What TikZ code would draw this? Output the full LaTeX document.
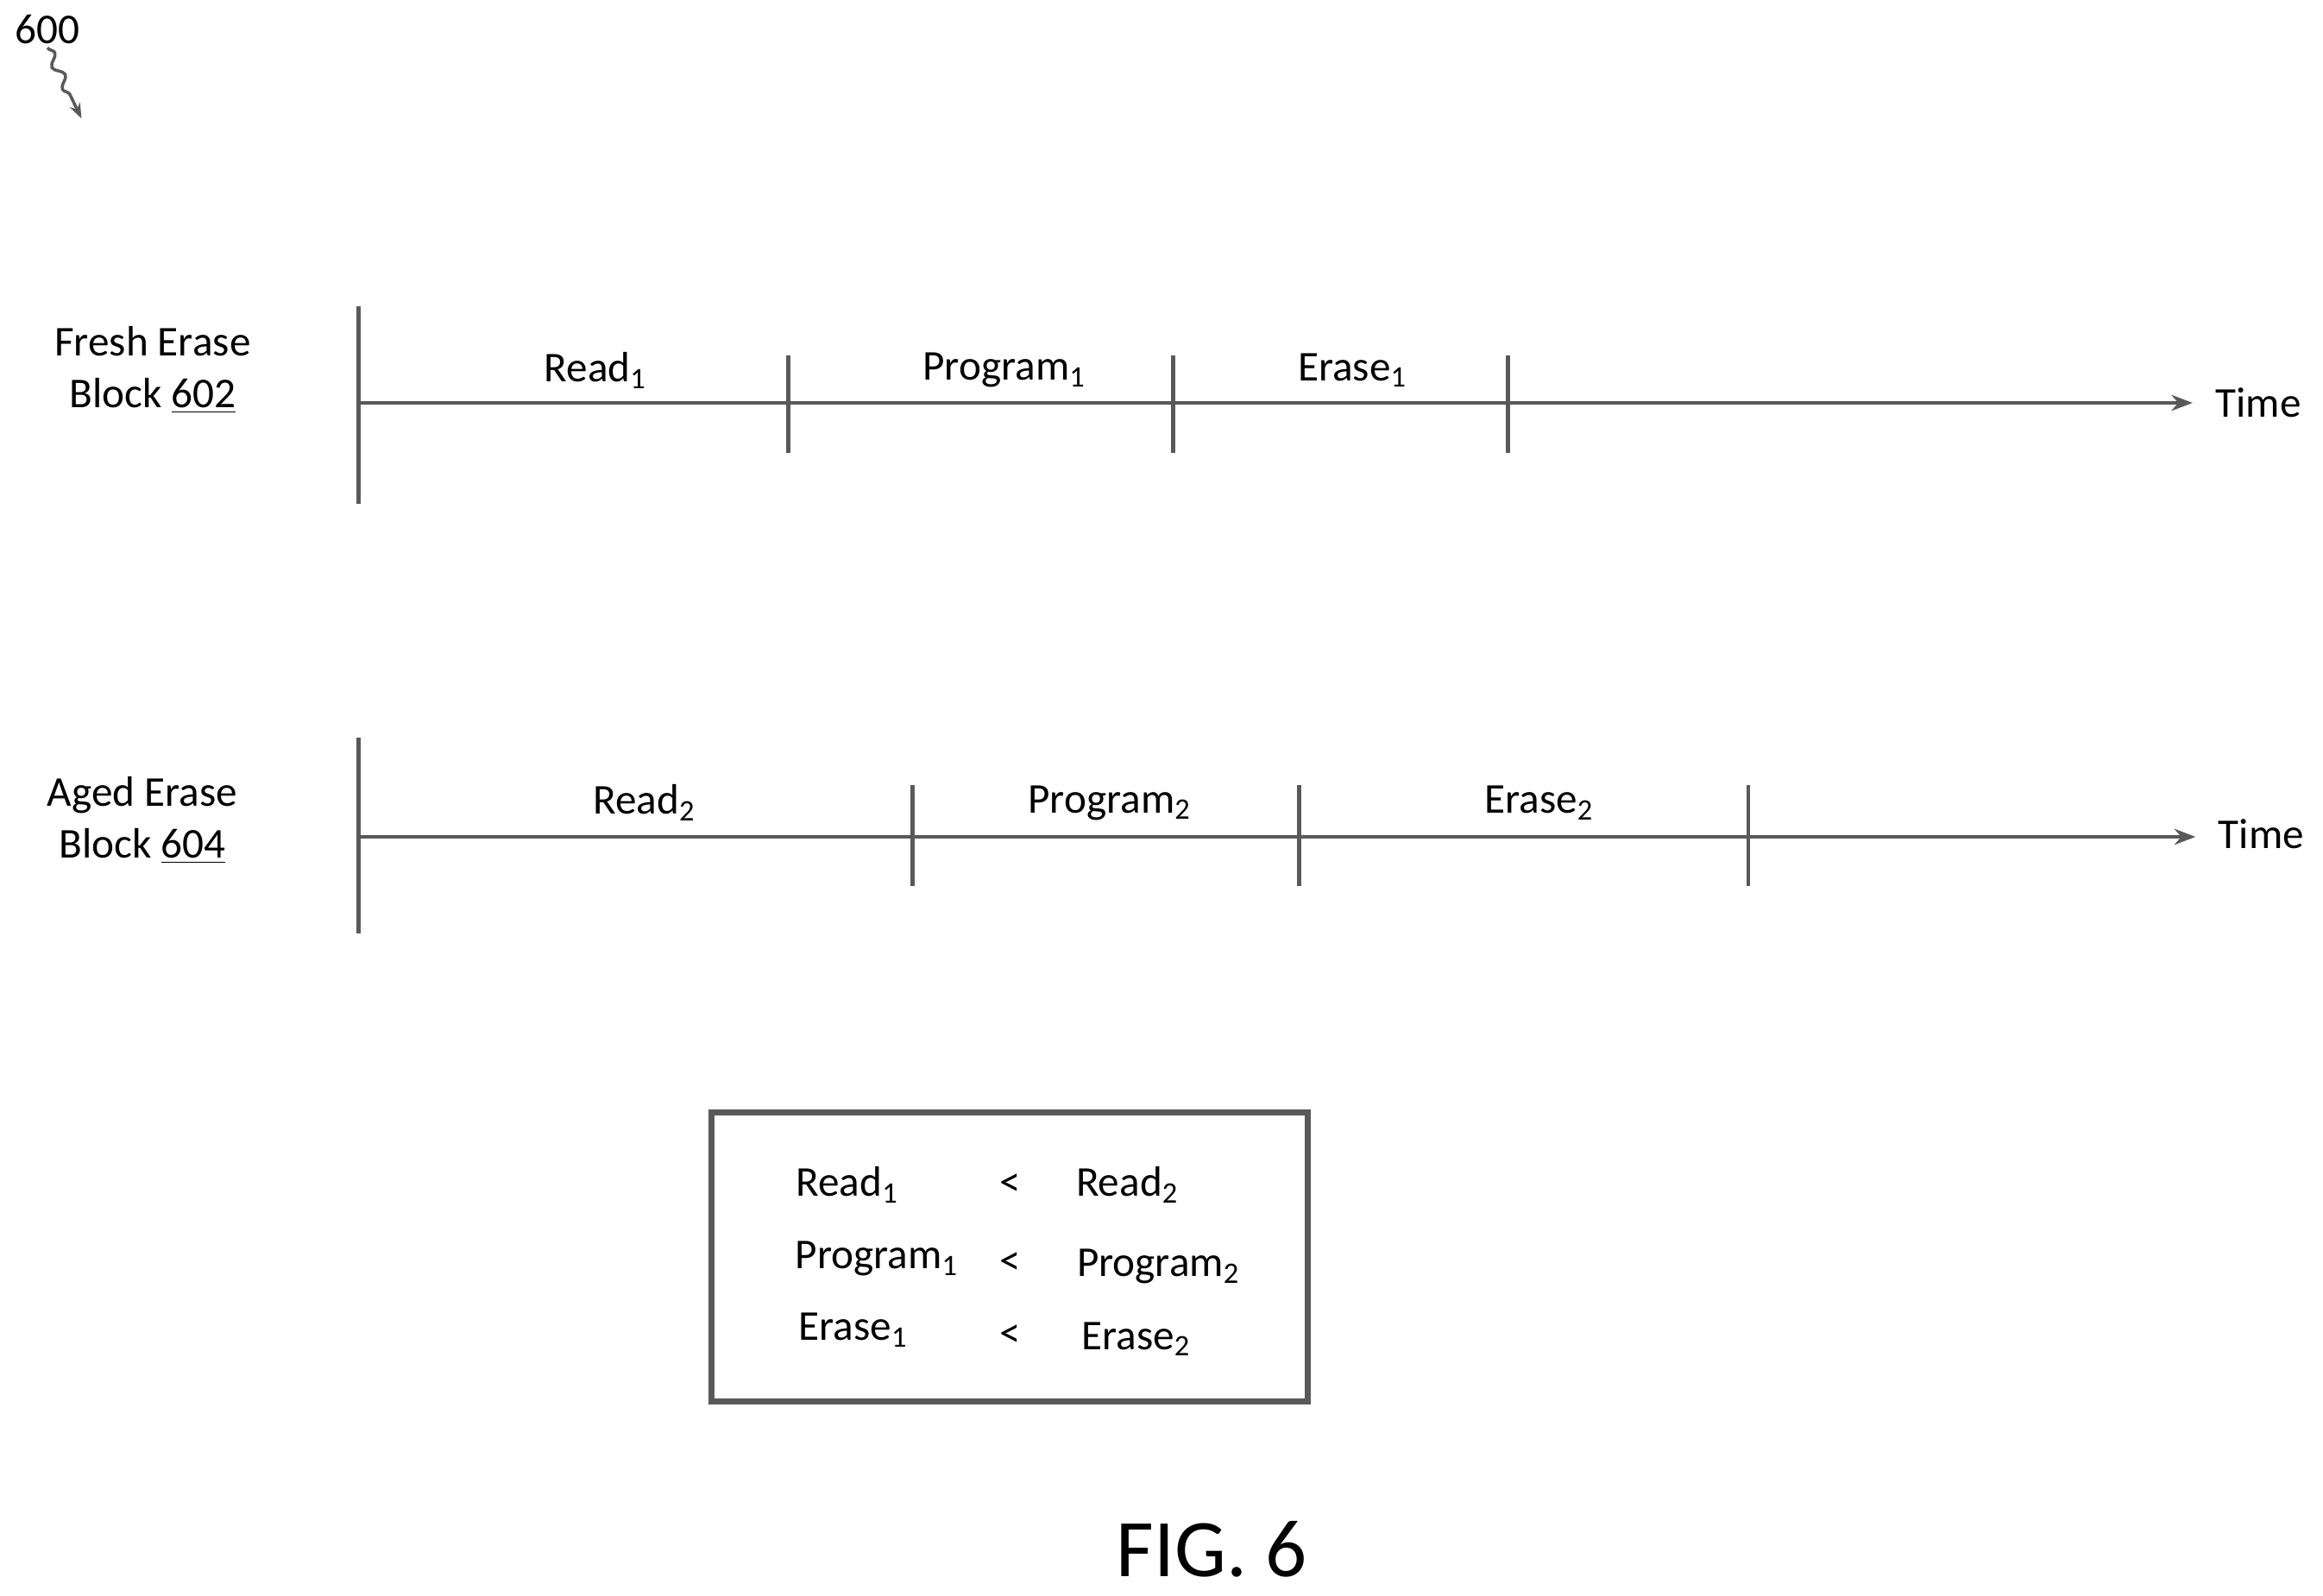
\documentclass[tikz,border=0pt]{standalone}
\usepackage{fontspec}
\setmainfont{Carlito}
\usetikzlibrary{positioning}
\usetikzlibrary{arrows.meta}
\usetikzlibrary{decorations.pathmorphing}
\tikzset{
    axis/.style={draw=black!65, line width=1.3pt},
    tick/.style={draw=black!65, line width=1.3pt},
    lbl/.style={font=\fontsize{14}{17}\selectfont, inner sep=1pt},
}
\begin{document}
\begin{tikzpicture}[x=0.01717cm, y=-0.01717cm]
    \useasboundingbox (0,0) rectangle (1568,1077);
    % reference numeral
    \node[lbl] (n600) at (32,20) {600};
    \coordinate (n600e) at (55,80);
    \draw[black!65, line width=1pt, -{Stealth[length=5pt]}, decorate, decoration={snake, amplitude=1.5pt, segment length=8pt, post length=6pt}] (n600.south) -- (n600e);
    % fresh erase block
    \node[lbl, align=center] (fresh) at (103,250) {Fresh Erase\\Block \underline{602}};
    \coordinate (a0) at (242,272);
    \coordinate (a1) at (532,272);
    \coordinate (a2) at (792,272);
    \coordinate (a3) at (1018,272);
    \coordinate (ae) at (1480,272);
    \node[lbl, anchor=west] (t1) at (1493,272) {Time};
    \path[axis, -{Stealth[length=7pt]}] (a0) -- (ae);
    \path[tick] (a0) ++(0,-65) -- ++(0,133);
    \foreach \c in {a1,a2,a3} {
        \path[tick] (\c) ++(0,-32) -- ++(0,66);
    }
    \node[lbl] (rd1) at (402,250) {Read\textsubscript{1}};
    \node[lbl] (pg1) at (678,250) {Program\textsubscript{1}};
    \node[lbl] (er1) at (913,250) {Erase\textsubscript{1}};
    % aged erase block
    \node[lbl, align=center] (aged) at (96,554) {Aged Erase\\Block \underline{604}};
    \coordinate (b0) at (242,565);
    \coordinate (b1) at (616,565);
    \coordinate (b2) at (877,565);
    \coordinate (b3) at (1180,565);
    \coordinate (be) at (1482,565);
    \node[lbl, anchor=west] (t2) at (1495,563) {Time};
    \path[axis, -{Stealth[length=7pt]}] (b0) -- (be);
    \path[tick] (b0) ++(0,-67) -- ++(0,132);
    \foreach \c in {b1,b2,b3} {
        \path[tick] (\c) ++(0,-35) -- ++(0,68);
    }
    \node[lbl] (rd2) at (435,542) {Read\textsubscript{2}};
    \node[lbl] (pg2) at (749,542) {Program\textsubscript{2}};
    \node[lbl] (er2) at (1039,542) {Erase\textsubscript{2}};
    % comparison box
    \path[draw=black!65, line width=2pt] (480,751) rectangle (883,946);
    \node[lbl] (cr1) at (572,800) {Read\textsubscript{1}};
    \node[lbl] (lt1) at (682,800) {<};
    \node[lbl] (cr2) at (761,800) {Read\textsubscript{2}};
    \node[lbl] (cp1) at (592,850) {Program\textsubscript{1}};
    \node[lbl] (lt2) at (682,853) {<};
    \node[lbl] (cp2) at (782,855) {Program\textsubscript{2}};
    \node[lbl] (ce1) at (576,898) {Erase\textsubscript{1}};
    \node[lbl] (lt3) at (682,902) {<};
    \node[lbl] (ce2) at (767,904) {Erase\textsubscript{2}};
    % figure caption
    \node[font=\fontsize{27}{32}\selectfont, inner sep=1pt] (fig) at (818,1046) {FIG. 6};
\end{tikzpicture}
\end{document}
